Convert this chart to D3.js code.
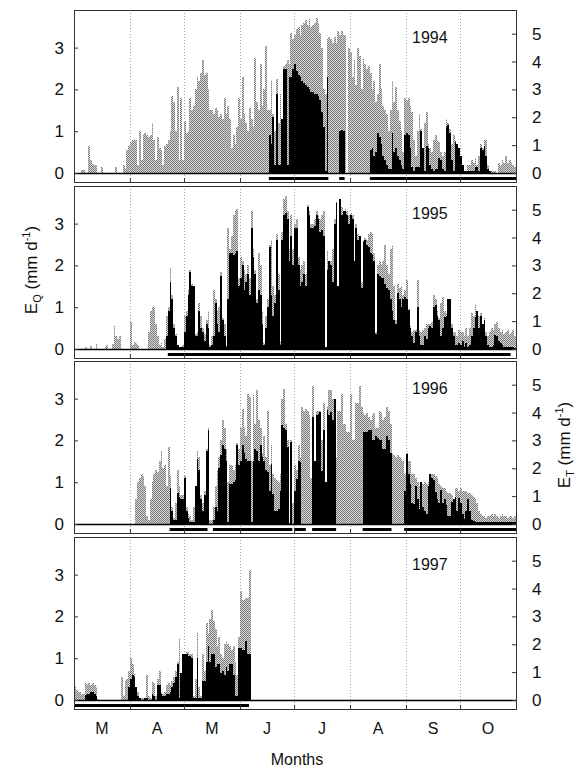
<!DOCTYPE html>
<html>
<head>
<meta charset="utf-8">
<script src="https://cdn.jsdelivr.net/npm/d3@7"></script>
<style>
  body { margin: 0; background: #fff; }
  text { font-family: "Liberation Sans", Arial, sans-serif; }
</style>
</head>
<body>
<svg id="chart" width="583" height="769"></svg>
<script>
// jours depuis le 1er mars (0..244), valeurs en mm/j (axe de gauche, E_Q)
const monthLabels = ["M", "A", "M", "J", "J", "A", "S", "O"];
const monthStarts = [0, 31, 61, 92, 122, 153, 184, 214, 245];
const leftTicks = [0, 1, 2, 3];
const rightTicks = [0, 1, 2, 3, 4, 5];
const years = ["1994", "1995", "1996", "1997"];

const gray1994 = [
  0,0,0,0,0.08,0.08,0,0,0.64,0.3,
  0.22,0.2,0.2,0,0,0.15,0,0,0,0,
  0,0,0,0.14,0,0,0,0.2,0.1,0.55,
  0.65,0.75,0.8,0.82,0.8,0.2,1.0,0.3,0.9,0.95,
  0.9,0.85,0.9,1.2,0.8,0.3,0.85,0.6,0.55,0.2,
  0.65,0.7,0.8,1.0,1.85,1.7,1.0,2.05,0.3,1.8,
  0.3,1.25,0.95,1.0,1.8,1.5,1.6,2.0,2.3,2.2,
  2.4,2.7,2.35,2.4,2.0,1.5,1.5,1.4,1.55,1.5,
  1.35,1.4,1.3,1.8,1.4,1.6,1.3,0.6,0.9,0.7,
  1.1,1.8,1.3,2.3,1.4,1.2,1.0,1.55,1.3,1.1,
  2.75,1.7,1.5,2.6,1.6,2.0,3.05,1.5,1.5,2.2,
  1.4,1.0,2.25,1.2,1.9,1.3,2.55,2.6,2.7,2.6,
  3.35,3.2,3.3,3.45,3.5,3.3,3.55,3.6,3.65,3.55,
  3.7,3.5,3.55,3.6,3.72,3.6,3.35,3.0,2.0,1.9,
  3.2,3.25,3.2,3.1,3.25,3.1,3.4,3.3,3.4,3.3,
  3.3,0,3.0,2.9,2.3,2.7,2.1,3.0,2.8,2.0,
  2.75,2.6,2.5,2.55,2.4,2.0,2.2,1.7,1.9,2.6,
  2.0,1.6,1.5,1.4,1.0,1.5,2.2,1.7,2.05,1.5,
  1.25,1.0,0.5,1.8,1.75,1.8,1.6,1.45,0.8,0.4,
  1.0,1.4,1.05,0.6,1.2,1.45,0.7,0.6,0.5,0.8,
  0.9,0.8,0.75,0.5,0.4,0.5,1.3,1.2,1.05,0.7,
  0.9,0.8,0.7,0.6,0.4,0.2,0.05,0.05,0.2,0.2,
  0.3,0.25,0.35,0.2,0.4,0.7,0.6,0.8,0.8,0.2,
  0.05,0.05,0.05,0.05,0,0.25,0.2,0.3,0.25,0.4,
  0.25,0.3,0.25,0.2,0.15
];
const black1994 = [
  0,0,0,0,0,0,0,0,0,0, 0,0,0,0,0,0,0,0,0,0,
  0,0,0,0,0,0,0,0,0,0, 0,0,0,0,0,0,0,0,0,0,
  0,0,0,0,0,0,0,0,0,0, 0,0,0,0,0,0,0,0,0,0,
  0,0,0,0,0,0,0,0,0,0, 0,0,0,0,0,0,0,0,0,0,
  0,0,0,0,0,0,0,0,0,0, 0,0,0,0,0,0,0,0,0,0,
  0,0,0,0,0,0,0,0,0.9,0.7,
  1.35,0.2,1.9,0.2,0.2,1.3,2.5,2.5,0.2,2.3,
  2.3,2.5,2.6,2.45,2.35,2.3,2.2,2.15,2.1,2.05,
  2.0,1.95,1.95,1.9,1.9,1.85,1.75,1.45,1.1,0.05,
  2.3,0,0,0,0,0,0,1.0,1.02,1.0,
  0,0,0,0,0,0,0,0,0,0,
  0,0,0,0,0.55,0.6,0.4,0.5,0.95,0.85,
  0.7,0.4,0.3,0.2,0.1,0.1,0.95,0.5,0.6,0.4,
  0.3,0.2,0.1,0.9,0.95,0.9,0.6,0.15,0.05,0.15,
  0.15,0.15,1.0,0.6,0.05,0.65,0.6,0.2,0.1,0.05,
  0.1,0.1,0.35,0.3,0.1,0.05,1.1,1.15,0.95,0.3,
  0.05,0.75,0.7,0.6,0.4,0.2,0.05,0.05,0.05,0.05,
  0.05,0.05,0.15,0.15,0.05,0.6,0.55,0.65,0.4,0.1,
  0.05
];
const periods1994 = [[108, 141], [147, 150], [164, 245]];

const gray1995 = [
  0,0,0,0,0,0,0.05,0,0,0.08,
  0,0,0.12,0,0,0,0,0.05,0.1,0,
  0,0.12,0.55,0.3,0.25,0.3,0,0,0,0,
  0,0.65,0.1,0.2,0.15,0.1,0,0,0,0,
  0,0.4,0.9,1.0,1.0,0.6,0.3,0.1,0.15,0.05,
  0.25,0.8,1.0,1.93,1.3,0.6,0.35,0.1,0.05,0.05,
  0.1,0.8,0.9,1.4,1.9,1.55,1.5,0.35,0.4,1.1,
  0.8,0.5,0.35,0.7,0.9,0.1,0.3,1.4,1.2,0.9,
  1.0,1.85,0.75,0.6,0.1,2.9,2.4,2.7,3.2,3.3,
  3.35,1.7,2.2,2.1,1.9,1.8,2.0,1.7,3.3,2.4,
  1.9,1.2,2.3,2.0,0.9,0.15,0.8,1.2,2.5,2.6,
  1.5,1.3,2.75,1.8,0.2,2.8,3.6,3.65,3.3,2.4,
  3.2,2.4,3.0,3.1,2.2,1.9,2.0,2.1,1.8,3.45,
  3.3,3.0,3.0,3.1,3.3,3.2,3.1,3.2,3.3,0.05,
  2.35,2.1,2.1,2.4,3.1,3.55,1.5,3.6,3.4,3.3,
  3.35,3.3,3.2,3.25,3.2,2.1,3.0,2.75,2.7,1.6,
  2.6,2.65,2.6,2.75,2.8,2.75,2.3,0.4,2.0,2.1,
  2.0,2.1,2.5,2.0,1.8,2.4,2.5,1.5,0.7,1.55,
  1.45,1.5,1.3,1.4,1.65,0.95,0.55,0.4,0.45,0.45,
  1.65,0.45,0.4,0.45,0.5,0.6,0.6,0.6,0.65,1.3,
  1.2,0.9,0.75,1.1,1.25,0.9,0.85,1.2,1.2,0.6,
  0.4,0.4,0.3,0.45,0.4,0.4,0.3,0.5,0.3,0.5,
  0.85,0.8,1.05,0.9,0.8,0.85,0.6,0.75,0.4,0.3,
  0.4,0.5,0.45,0.6,0.65,0.5,0.4,0.45,0.35,0.4,
  0.45,0.35,0.4,0.45,0.3
];
const black1995 = [
  0,0,0,0,0,0,0,0,0,0, 0,0,0,0,0,0,0,0,0,0,
  0,0,0,0,0,0,0,0,0,0, 0,0,0,0,0,0,0,0,0,0,
  0,0,0,0,0,0,0,0,0,0,
  0,0.3,0.9,1.6,1.2,0.5,0.3,0.1,0.05,0.05,
  0.05,0.4,0.8,1.3,1.85,1.5,1.5,0.3,0.3,0.9,
  0.5,0.4,0.2,0.6,0.5,0.05,0.1,0.3,1.1,0.6,
  0.4,1.75,0.7,0.3,0.05,1.2,2.3,2.3,2.25,2.3,
  2.35,1.5,1.7,2.0,1.4,1.6,1.8,1.3,2.9,2.2,
  1.8,1.1,1.4,1.3,0.6,0.1,0.5,1.0,2.45,1.3,
  0.8,1.1,2.6,1.4,0.1,2.6,3.2,3.25,3.1,2.1,
  2.7,2.0,2.9,2.9,2.0,1.5,1.6,1.8,1.5,3.4,
  3.2,2.9,2.9,2.95,3.2,3.1,2.8,2.85,2.7,0.05,
  1.9,2.1,2.0,1.6,3.0,3.5,1.5,3.6,3.2,3.3,
  3.3,3.2,3.0,3.2,3.1,2.1,2.9,2.6,2.7,1.45,
  2.55,2.6,2.5,2.45,2.3,2.25,2.1,0.37,1.8,1.75,
  1.7,1.7,1.55,1.45,1.4,1.2,0.9,0.7,0.6,1.33,
  1.2,1.0,1.2,1.25,1.2,0.93,0.5,0.3,0.15,0.4,
  1.0,0.3,0.1,0.1,0.3,0.25,0.5,0.55,0.5,1.0,
  1.05,0.8,0.7,0.3,0.5,0.77,0.8,1.2,1.2,0.5,
  0.3,0.1,0.1,0.15,0.1,0.2,0.05,0.15,0.05,0.1,
  0.3,0.5,0.77,0.9,0.5,0.8,0.6,0.7,0.3,0.1,
  0.05,0.05,0.1,0.33,0.3,0.2,0.15,0.1,0.05,0.05,
  0.05,0.05,0.05,0.05,0.03
];
const periods1995 = [[52, 242]];

const gray1996 = [
  0,0,0,0,0,0,0,0,0,0, 0,0,0,0,0,0,0,0,0,0,
  0,0,0,0,0,0,0,0,0,0,
  0,0,0,0,0.6,1.0,1.1,1.2,1.15,0.9,
  0.2,0.1,0.6,1.0,1.2,1.3,1.25,1.5,1.75,1.35,
  1.4,0.9,1.85,1.15,0.4,0.15,0.5,1.3,0.9,0.7,
  0.7,1.15,0.4,0.25,0.2,0.1,0.4,0.9,1.75,1.6,
  0.7,0.5,0.8,1.8,2.3,0.1,0.1,0.4,0.9,1.3,
  1.6,2.0,2.5,2.3,1.8,1.0,1.4,1.4,1.3,1.4,
  1.95,1.8,2.3,2.75,2.3,2.1,3.1,3.05,1.5,3.1,
  2.4,3.2,2.5,2.3,1.7,2.1,1.6,2.7,1.4,1.9,
  1.2,1.1,1.05,1.0,1.2,3.0,3.24,2.4,2.0,0.05,
  2.0,0.5,1.4,1.3,1.9,1.6,2.8,2.7,2.75,2.7,
  2.6,1.1,3.3,1.5,2.7,2.7,2.7,2.0,2.9,1.0,
  2.8,3.2,3.2,3.0,3.0,1.6,2.7,2.7,3.1,2.4,
  2.4,2.2,2.2,3.1,2.0,2.0,2.9,2.9,3.3,2.8,
  2.65,2.6,2.65,2.55,2.5,2.6,2.65,2.3,2.3,2.7,
  2.65,2.5,2.55,2.8,2.7,2.4,1.7,1.65,1.6,1.65,
  1.6,1.55,1.5,1.2,1.7,1.5,1.5,1.2,1.2,1.1,
  1.0,0.9,1.0,0.95,1.0,0.95,1.0,1.2,1.2,1.2,
  1.15,1.1,0.95,0.9,0.85,0.85,0.8,0.75,0.75,0.7,
  0.6,0.85,0.85,0.8,0.85,0.8,0.8,0.8,0.75,0.75,
  0.7,0.65,0.6,0.5,0.3,0.25,0.2,0.2,0.15,0.2,
  0.2,0.25,0.2,0.25,0.2,0.15,0.2,0.25,0.2,0.2,
  0.15,0.2,0.2,0.15,0.2
];
const black1996 = [
  0,0,0,0,0,0,0,0,0,0, 0,0,0,0,0,0,0,0,0,0,
  0,0,0,0,0,0,0,0,0,0, 0,0,0,0,0,0,0,0,0,0,
  0,0,0,0,0,0,0,0,0,0,
  0,0,0,0.85,0.3,0.1,0.1,0.75,0.65,0.6,
  0.6,1.1,0.3,0.15,0.05,0.05,0.05,0.9,1.55,1.3,
  0.6,0.3,0.7,1.75,2.25,0,0,0.1,0.4,0.3,
  1.35,1.65,1.9,1.8,1.5,0.05,0.95,0.95,1.0,1.05,
  1.9,1.4,1.5,1.9,1.7,1.55,1.5,1.5,0.05,1.5,
  1.8,1.75,1.5,1.9,1.6,1.5,1.3,1.25,0.8,1.44,
  0.72,0.3,0.3,0.35,0.8,2.36,2.3,2.24,1.84,0,
  1.96,0,0.8,1.08,1.5,1.48,0,0,0,0,
  0,0,2.56,1.5,2.6,2.64,2.68,1.28,2.24,1.0,
  2.72,2.6,2.68,2.5,2.98,0,0,0,0,0,
  0,0,0,0,0,0,0,0,0,0,
  2.2,2.2,2.2,2.25,2.25,2.0,2.0,2.1,2.05,2.0,
  2.0,1.8,1.8,2.1,2.0,1.7,0,0,0,0,
  0,0,0,0.8,1.67,1.2,0.95,0.5,0.48,0.9,
  0.6,0.35,1.0,0.4,0.3,0.25,0.9,1.2,1.1,1.05,
  0.77,0.6,0.5,0.82,0.5,0.6,0.45,0.2,0.2,0.52,
  0.6,0.64,0.3,0.62,0.5,0.25,0.12,0.3,0.6,0.3,
  0.1,0.08,0.05,0.04,0.04,0.04,0.04,0.04,0.04,0.04,
  0.04,0.04,0.04,0.04,0.04,0.04,0.04,0.04,0.04,0.04,
  0.04,0.04,0.04,0.04,0.04
];
const periods1996 = [[53, 74], [77, 121], [122, 128.5], [132, 145.3], [160, 176], [183, 245]];

const gray1997 = [
  0.3,0.25,0.2,0.2,0.15,0.15,0.4,0.35,0.4,0.35,
  0.4,0.35,0.3,0.02,0,0,0,0,0,0,
  0,0,0,0,0,0,0.55,0.1,0.45,0.5,
  0.7,1.0,0.85,0.65,0.3,0.2,0.05,0.05,0.05,0.05,
  0.6,0.1,0.05,0.45,0.4,0.1,0.5,0.7,0.2,0.15,
  0.2,0.35,0.4,0.35,0.45,0.55,0.7,0.9,1.45,0.6,
  0.8,1.1,1.15,1.15,1.1,1.1,0.1,0.5,1.6,0.3,
  0.1,1.1,0.7,1.85,1.6,1.95,2.15,1.9,1.7,1.3,
  1.5,1.1,1.0,1.35,1.4,1.35,1.3,1.2,1.3,0.9,
  0.6,1.5,2.6,2.4,2.4,2.45,2.45,3.1
];
const black1997 = [
  0,0,0,0,0,0,0.12,0.15,0.15,0.2,
  0.2,0.15,0.1,0,0,0,0,0,0,0,
  0,0,0,0,0,0,0,0,0,0,
  0.3,0.5,0.6,0.55,0.3,0.1,0.05,0,0,0.05,
  0.05,0,0,0.15,0.1,0,0.35,0.35,0.15,0.1,
  0.1,0.15,0.15,0.2,0.3,0.4,0.55,0.85,0.05,0.65,
  1.1,1.1,1.1,1.05,1.05,1.0,0.05,0.05,1.0,0.05,
  0.05,0.45,0.45,0.9,1.3,0.9,1.1,1.1,0.8,0.85,
  0.85,0.65,0.7,0.6,0.8,0.7,0.85,0.85,0.6,0.1,
  0.1,1.25,1.25,1.2,1.2,1.4,1.1,1.1
];
const periods1997 = [[0, 97]];

const panels = [
  { year: years[0], gray: gray1994, black: black1994, periods: periods1994 },
  { year: years[1], gray: gray1995, black: black1995, periods: periods1995 },
  { year: years[2], gray: gray1996, black: black1996, periods: periods1996 },
  { year: years[3], gray: gray1997, black: black1997, periods: periods1997 }
];

const svg = d3.select("#chart");

// trame grise (imitation du pointillé de l'original)
const pat = svg.append("defs").append("pattern")
  .attr("id", "stipple")
  .attr("patternUnits", "userSpaceOnUse")
  .attr("width", 2).attr("height", 2);
pat.append("rect").attr("width", 2).attr("height", 2).attr("fill", "#d6d6d6");
pat.append("rect").attr("x", 0).attr("y", 0).attr("width", 1).attr("height", 1).attr("fill", "#7c7c7c");
pat.append("rect").attr("x", 1).attr("y", 1).attr("width", 1).attr("height", 1).attr("fill", "#7c7c7c");

const x = d3.scaleLinear().domain([0, 245]).range([74, 516]);
const px = j => Math.round(x(j));
const plotH = 163;   // du haut du cadre jusqu'à zéro
const stripH = 9;    // bande des périodes sous zéro
const step = 175.7;

panels.forEach((p, i) => {
  const top = Math.round(10 + i * step);
  const zero = top + plotH;
  const bottom = zero + stripH;
  const y = d3.scaleLinear().domain([0, 3.9]).range([zero, top]);
  const yR = d3.scaleLinear().domain([0, 3.9 * 1.5]).range([zero, top]);
  const g = svg.append("g");

  // lignes pointillées des mois
  g.selectAll(".mline")
    .data(monthStarts.slice(1, -1))
    .enter()
    .append("line")
    .attr("x1", d => px(d) + 0.5).attr("x2", d => px(d) + 0.5)
    .attr("y1", top).attr("y2", bottom)
    .attr("stroke", "#8a8a8a")
    .attr("stroke-width", 0.8)
    .attr("stroke-dasharray", "1,2");

  // barres grises
  g.selectAll(".gbar")
    .data(p.gray)
    .enter()
    .append("rect")
    .attr("x", (d, j) => px(j))
    .attr("width", (d, j) => px(j + 1) - px(j))
    .attr("y", d => Math.round(y(d)))
    .attr("height", d => zero - Math.round(y(d)))
    .attr("fill", "url(#stipple)")
    .attr("shape-rendering", "crispEdges");

  // barres noires
  g.selectAll(".bbar")
    .data(p.black)
    .enter()
    .append("rect")
    .attr("x", (d, j) => px(j))
    .attr("width", (d, j) => px(j + 1) - px(j))
    .attr("y", d => Math.round(y(d)))
    .attr("height", d => zero - Math.round(y(d)))
    .attr("fill", "#000")
    .attr("shape-rendering", "crispEdges");

  // ligne zéro
  g.append("line")
    .attr("x1", x(0)).attr("x2", x(245))
    .attr("y1", zero + 0.5).attr("y2", zero + 0.5)
    .attr("stroke", "#000").attr("stroke-width", 1.3);

  // périodes
  g.selectAll(".period")
    .data(p.periods)
    .enter()
    .append("rect")
    .attr("x", d => x(d[0]))
    .attr("width", d => x(d[1]) - x(d[0]))
    .attr("y", zero + 4)
    .attr("height", 3)
    .attr("fill", "#000");

  // cadre
  g.append("rect")
    .attr("x", x(0) + 0.5).attr("y", top + 0.5)
    .attr("width", x(245) - x(0)).attr("height", bottom - top)
    .attr("fill", "none").attr("stroke", "#333").attr("stroke-width", 1);

  // axes
  const left = g.append("g")
    .attr("transform", `translate(${x(0)},0)`)
    .call(d3.axisLeft(y).tickValues(leftTicks).tickFormat(d3.format("d"))
      .tickSizeInner(-4).tickSizeOuter(0).tickPadding(10));
  const right = g.append("g")
    .attr("transform", `translate(${x(245)},0)`)
    .call(d3.axisRight(yR).tickValues(rightTicks).tickFormat(d3.format("d"))
      .tickSizeInner(-4).tickSizeOuter(0).tickPadding(16));
  const bot = g.append("g")
    .attr("transform", `translate(0,${bottom})`)
    .call(d3.axisBottom(x).tickValues(monthStarts.slice(1, -1))
      .tickSizeInner(-4).tickSizeOuter(0).tickFormat(""));
  [left, right, bot].forEach(a => {
    a.select(".domain").remove();
    a.selectAll("line").attr("stroke", "#333");
    a.selectAll("text").attr("font-size", 17).attr("fill", "#111")
      .attr("font-family", "Liberation Sans, Arial, sans-serif");
  });

  // année
  g.append("text")
    .attr("x", 412).attr("y", top + 33)
    .attr("font-size", 16)
    .attr("fill", "#111")
    .text(p.year);

  // étiquettes des mois sous le dernier panneau
  if (i === panels.length - 1) {
    g.selectAll(".mlab")
      .data(monthLabels)
      .enter()
      .append("text")
      .attr("x", (d, j) => x((monthStarts[j] + monthStarts[j + 1]) / 2))
      .attr("y", bottom + 25)
      .attr("text-anchor", "middle")
      .attr("font-size", 16)
      .attr("fill", "#111")
      .text(d => d);
  }
});

// titres des axes
const eq = svg.append("text")
  .attr("transform", "translate(37,270) rotate(-90)")
  .attr("text-anchor", "middle")
  .attr("font-size", 17)
  .attr("fill", "#111");
eq.append("tspan").text("E");
eq.append("tspan").attr("font-size", 11).attr("dy", 4).text("Q");
eq.append("tspan").attr("dy", -4).text(" (mm d");
eq.append("tspan").attr("font-size", 11).attr("dy", -7).text("-1");
eq.append("tspan").attr("dy", 7).text(")");

const et = svg.append("text")
  .attr("transform", "translate(570,445) rotate(-90)")
  .attr("text-anchor", "middle")
  .attr("font-size", 17)
  .attr("fill", "#111");
et.append("tspan").text("E");
et.append("tspan").attr("font-size", 11).attr("dy", 4).text("T");
et.append("tspan").attr("dy", -4).text(" (mm d");
et.append("tspan").attr("font-size", 11).attr("dy", -7).text("-1");
et.append("tspan").attr("dy", 7).text(")");

svg.append("text")
  .attr("x", 297).attr("y", 765)
  .attr("text-anchor", "middle")
  .attr("font-size", 16)
  .attr("fill", "#111")
  .text("Months");
</script>
</body>
</html>
